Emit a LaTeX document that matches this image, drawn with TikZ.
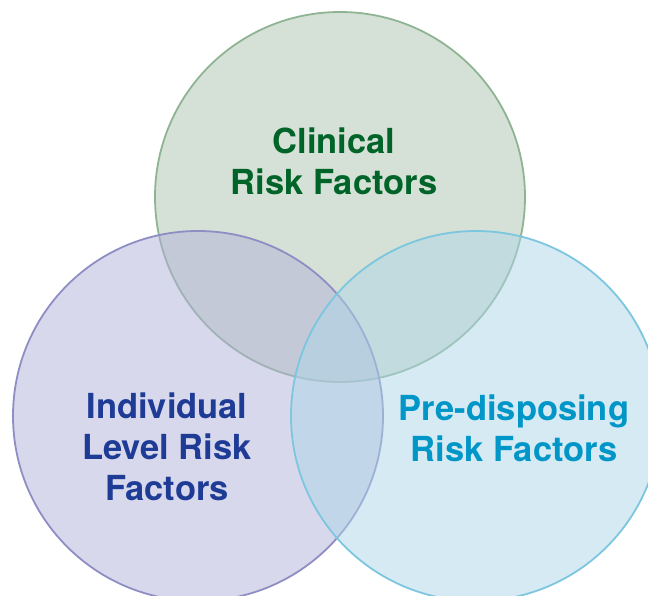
\documentclass[tikz,border=0pt]{standalone}
\usepackage{fontspec}
\setmainfont{TeX Gyre Heros}
\usepackage{xcolor}
\definecolor{clin-fill}{RGB}{171,195,173}
\definecolor{clin-line}{RGB}{143,180,147}
\definecolor{clin-text}{RGB}{0,100,40}
\definecolor{indiv-fill}{RGB}{177,177,217}
\definecolor{indiv-line}{RGB}{142,142,196}
\definecolor{indiv-text}{RGB}{30,60,150}
\definecolor{pre-fill}{RGB}{173,213,231}
\definecolor{pre-line}{RGB}{125,198,223}
\definecolor{pre-text}{RGB}{0,150,200}
\usetikzlibrary{positioning}

\begin{document}
\begin{tikzpicture}[x=1pt,y=1pt]
    \tikzset{
        setcircle/.style={circle,minimum size=370pt,inner sep=0pt,line width=1.8pt,fill opacity=0.5},
        setlabel/.style={align=center,font=\fontsize{34.5}{41}\selectfont\bfseries}
    }
    \useasboundingbox (0,0) rectangle (648,596);
    \node[setcircle,fill=clin-fill,draw=clin-line] (clin) at (340,399) {};
    \node[setcircle,fill=indiv-fill,draw=indiv-line] (indiv) at (198,180) {};
    \node[setcircle,fill=pre-fill,draw=pre-line] (pre) at (476,180) {};
    \node[setlabel,text=clin-text] (clinlabel) at (334,435) {Clinical\\Risk Factors};
    \node[setlabel,text=indiv-text] (indivlabel) at (167,149) {Individual\\Level Risk\\Factors};
    \node[setlabel,text=pre-text] (prelabel) at (514,168) {Pre-disposing\\Risk Factors};
\end{tikzpicture}
\end{document}
